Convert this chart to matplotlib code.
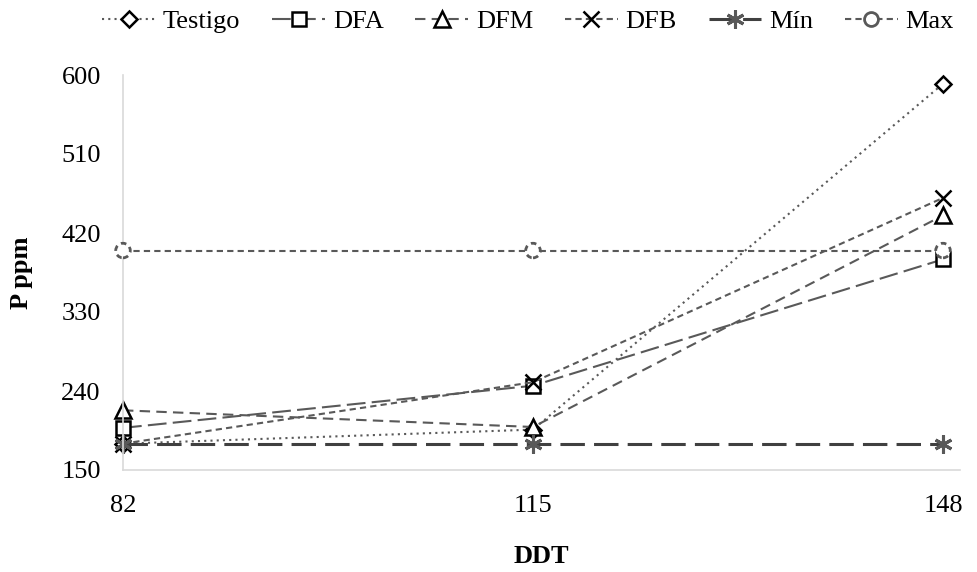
import matplotlib.pyplot as plt
from matplotlib.lines import Line2D

plt.rcParams['font.family'] = ['Liberation Serif', 'DejaVu Serif']

# Data
ddt = ["82", "115", "148"]
testigo = [180, 196, 590]
dfa = [198, 246, 390]
dfm = [218, 199, 440]
dfb = [180, 250, 460]
minimo = [180, 180, 180]
maximo = [400, 400, 400]

gray = "#595959"
x = range(len(ddt))

fig = plt.figure(figsize=(9.78, 5.72), dpi=100)
ax = fig.add_axes([123 / 978, 102 / 572, 837 / 978, 395 / 572])

mk = dict(markerfacecolor="white", markeredgecolor="black", markeredgewidth=1.8,
          clip_on=False)

h1, = ax.plot(x, testigo, color=gray, lw=1.5, linestyle=(0, (1, 2)),
              marker="D", markersize=8, label="Testigo", **mk)
h2, = ax.plot(x, dfa, color=gray, lw=1.5, linestyle=(0, (9, 3)),
              marker="s", markersize=10, label="DFA", **mk)
h3, = ax.plot(x, dfm, color=gray, lw=1.5, linestyle=(0, (5, 3)),
              marker="^", markersize=11, label="DFM", **mk)
h4, = ax.plot(x, dfb, color=gray, lw=1.5, linestyle=(0, (3, 2)),
              marker="x", markersize=11, label="DFB",
              markeredgecolor="black", markeredgewidth=1.8, clip_on=False)
h5, = ax.plot(x, minimo, color="#404040", lw=2.2, linestyle=(0, (8, 3)),
              marker=(6, 2, 0), markersize=13, markeredgewidth=2.2,
              markeredgecolor=gray, label="Mín", clip_on=False)
h6, = ax.plot(x, maximo, color=gray, lw=1.5, linestyle=(0, (3, 2)),
              label="Max", clip_on=False)
sc = ax.scatter(x, maximo, s=110, facecolors="white", edgecolors=gray,
                linewidths=2.0, linestyles=(0, (2, 1.5)), zorder=3,
                clip_on=False)

ax.set_xlim(0, 2 * 837 / 820)
ax.set_ylim(150, 600)
ax.set_yticks(range(150, 601, 90))
ax.set_xticks(list(x))
ax.set_xticklabels(ddt)
ax.tick_params(length=0, labelsize=19)
ax.tick_params(axis="x", pad=18)
ax.tick_params(axis="y", pad=16)

for s in ["top", "right"]:
    ax.spines[s].set_visible(False)
for s in ["left", "bottom"]:
    ax.spines[s].set_color("#d9d9d9")
    ax.spines[s].set_linewidth(1.2)

ax.set_xlabel("DDT", fontsize=19, fontweight="bold", labelpad=20)
ax.set_ylabel("P ppm", fontsize=19, fontweight="bold", labelpad=20)

max_handle = Line2D([], [], color=gray, lw=1.5, linestyle=(0, (3, 2)),
                    marker="o", markersize=10, markerfacecolor="white",
                    markeredgecolor=gray, markeredgewidth=2.0)
fig.legend([h1, h2, h3, h4, h5, max_handle],
           ["Testigo", "DFA", "DFM", "DFB", "Mín", "Max"],
           loc="upper center", bbox_to_anchor=(0.54, 1.025), ncol=6,
           frameon=False, fontsize=19, handlelength=2.0, handletextpad=0.3,
           columnspacing=1.2)

fig.savefig("out.png", dpi=100)
